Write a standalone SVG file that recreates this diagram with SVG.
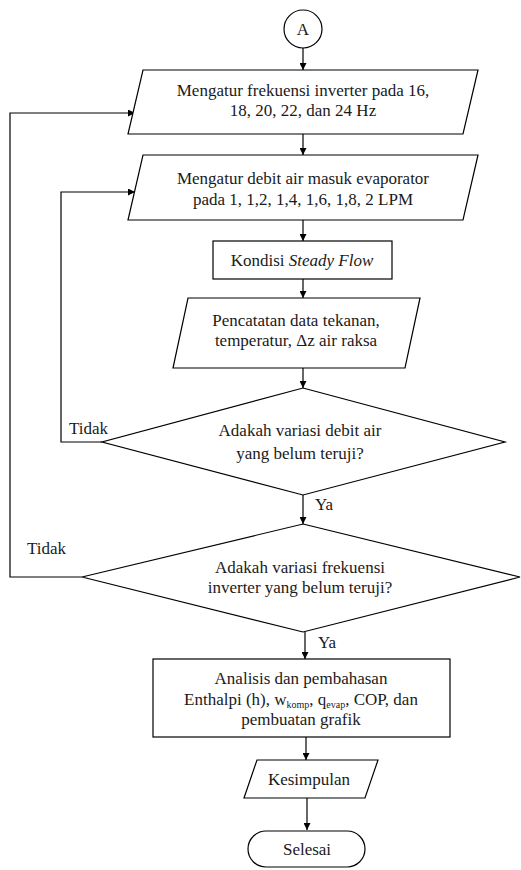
<svg xmlns="http://www.w3.org/2000/svg" width="521" height="870" viewBox="0 0 521 870">
<defs>
<marker id="ah" viewBox="0 0 10 10" refX="10" refY="5" markerWidth="7" markerHeight="7" markerUnits="userSpaceOnUse" orient="auto">
<path d="M0,0 L10,5 L0,10 z" fill="#000"/>
</marker>
<style>
.s{fill:#fff;stroke:#000;stroke-width:1.2}
.c{fill:none;stroke:#000;stroke-width:1.2;marker-end:url(#ah)}
text{font-family:'Liberation Serif','DejaVu Serif',serif;font-size:17px;fill:#1a1a1a}
.m{text-anchor:middle}
.sub{font-size:10px}
</style>
</defs>
<rect width="521" height="870" fill="#fff"/>
<g id="connectors">
<line class="c" x1="303" y1="48" x2="303" y2="70"/>
<line class="c" x1="303" y1="134" x2="303" y2="155"/>
<line class="c" x1="303" y1="220" x2="303" y2="241"/>
<line class="c" x1="303" y1="279" x2="303" y2="298"/>
<line class="c" x1="303" y1="368" x2="303" y2="388"/>
<line class="c" x1="303" y1="495" x2="303" y2="524"/>
<line class="c" x1="305" y1="632" x2="305" y2="659"/>
<line class="c" x1="306" y1="737" x2="306" y2="760"/>
<line class="c" x1="307" y1="798" x2="307" y2="830"/>
<polyline class="c" points="102,442 61,442 61,192 135,192"/>
<polyline class="c" points="82,577 10,577 10,113 135,113"/>
</g>
<g id="nodeA">
<circle class="s" cx="303" cy="29" r="19"/>
<text class="m" x="303" y="35" font-family="Liberation Serif, serif">A</text>
</g>
<g id="node1">
<polygon class="s" points="143,70 478,70 463,134 128,134"/>
<text class="m" x="303" y="96">Mengatur frekuensi inverter pada 16,</text>
<text class="m" x="303" y="116">18, 20, 22, dan 24 Hz</text>
</g>
<g id="node2">
<polygon class="s" points="143,155 478,155 463,220 128,220"/>
<text class="m" x="303" y="184">Mengatur debit air masuk evaporator</text>
<text class="m" x="303" y="205">pada 1, 1,2, 1,4, 1,6, 1,8, 2 LPM</text>
</g>
<g id="node3">
<rect class="s" x="213" y="241" width="179" height="38"/>
<text class="m" x="302" y="266">Kondisi <tspan font-style="italic">Steady Flow</tspan></text>
</g>
<g id="node4">
<polygon class="s" points="188,298 420,298 405,368 173,368"/>
<text class="m" x="296" y="326">Pencatatan data tekanan,</text>
<text class="m" x="296" y="346">temperatur, Δz air raksa</text>
</g>
<g id="decision1">
<polygon class="s" points="303,388 505,442 303,495 102,442"/>
<text class="m" x="300" y="436">Adakah variasi debit air</text>
<text class="m" x="300" y="459">yang belum teruji?</text>
</g>
<g id="decision2">
<polygon class="s" points="303,524 520,577 303,632 82,577"/>
<text class="m" x="300" y="573">Adakah variasi frekuensi</text>
<text class="m" x="300" y="593">inverter yang belum teruji?</text>
</g>
<g id="node5">
<rect class="s" x="153" y="659" width="297" height="78"/>
<text class="m" x="301" y="684">Analisis dan pembahasan</text>
<text class="m" x="301" y="705">Enthalpi (h), w<tspan class="sub" dy="3">komp</tspan><tspan dy="-3">, q</tspan><tspan class="sub" dy="3">evap</tspan><tspan dy="-3">, COP, dan</tspan></text>
<text class="m" x="301" y="725">pembuatan grafik</text>
</g>
<g id="node6">
<polygon class="s" points="257,760 378,760 365,798 244,798"/>
<text class="m" x="309" y="785">Kesimpulan</text>
</g>
<g id="nodeEnd">
<rect class="s" x="248" y="831" width="117" height="36" rx="18" ry="18"/>
<text class="m" x="307" y="855">Selesai</text>
</g>
<g id="labels">
<text x="69" y="434">Tidak</text>
<text x="27" y="554">Tidak</text>
<text x="315" y="510">Ya</text>
<text x="318" y="648">Ya</text>
</g>
</svg>
